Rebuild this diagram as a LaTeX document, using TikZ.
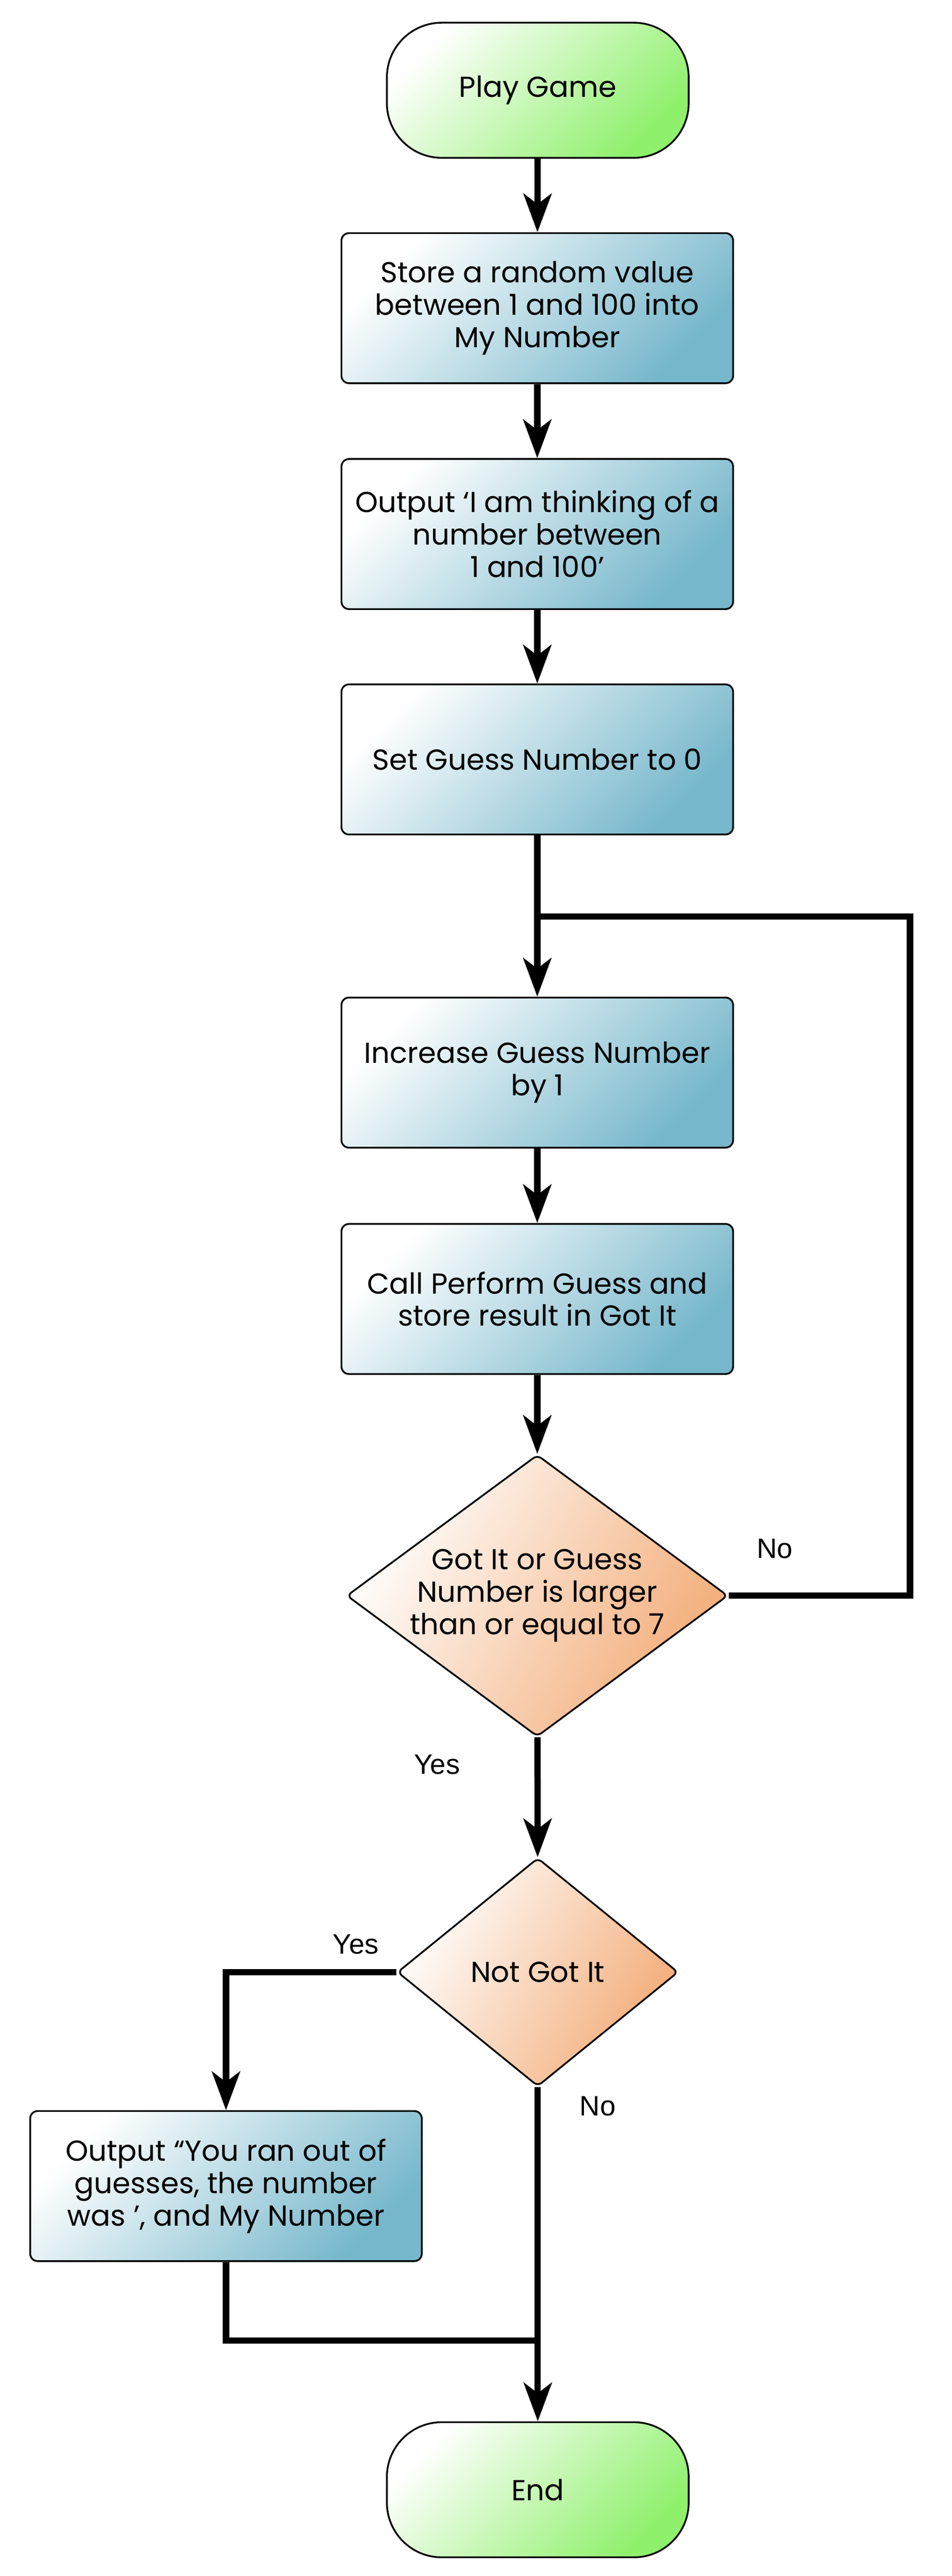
\documentclass[tikz,border=0pt]{standalone}
\usepackage{fontspec}
\setmainfont{Poppins}
\newfontfamily\yesnofont{Liberation Sans}
\usepackage{tikz}
\usetikzlibrary{shapes.geometric,arrows.meta,calc}

\definecolor{termgreen}{RGB}{143,240,108}
\definecolor{procblue}{RGB}{118,183,203}
\definecolor{decorange}{RGB}{243,172,120}

\begin{document}
\begin{tikzpicture}[
        font=\fontsize{16.5}{18.5}\selectfont,
        terminal/.style={draw=black, line width=1pt, rounded corners=1.1cm, minimum width=6.05cm, minimum height=2.71cm, top color=white, bottom color=termgreen, shading angle=45, align=center},
        process/.style={draw=black, line width=1pt, rounded corners=0.15cm, minimum width=7.85cm, minimum height=3.01cm, top color=white, bottom color=procblue, shading angle=45, align=center},
        decision/.style={diamond, draw=black, line width=1pt, rounded corners=0.1cm, aspect=1.35, inner sep=-3pt, top color=white, bottom color=decorange, shading angle=60, align=center},
        flow/.style={line width=3.6pt, -{Stealth[length=22pt,width=16pt,inset=6pt]}},
        wire/.style={line width=3.6pt},
        branch/.style={font=\yesnofont\fontsize{16}{19}\selectfont}
    ]
        \useasboundingbox (0,0) rectangle (19.08,-51.66);
        % Main column
        \node[terminal] (start) at (10.78,-1.81) {Play Game};
        \node[process] (store) at (10.77,-6.18) {Store a random value\\between 1 and 100 into\\My Number};
        \node[process] (think) at (10.77,-10.71) {Output ‘I am thinking of a\\number between\\1 and 100’};
        \node[process] (reset) at (10.77,-15.23) {Set Guess Number to 0};
        \node[process] (increase) at (10.77,-21.51) {Increase Guess Number\\by 1};
        \node[process] (perform) at (10.77,-26.05) {Call Perform Guess and\\store result in Got It};
        \node[decision, minimum width=7.64cm, minimum height=5.65cm] (check) at (10.77,-32.00) {Got It or Guess\\Number is larger\\than or equal to 7};
        \node[decision, minimum width=5.63cm, minimum height=4.58cm] (notgot) at (10.78,-39.55) {Not Got It};
        \node[process] (outofguesses) at (4.53,-43.84) {Output “You ran out of\\guesses, the number\\was ’, and My Number};
        \node[terminal] (finish) at (10.78,-49.93) {End};
        % Junction points
        \coordinate (loop) at (10.77,-18.38);
        \coordinate (back) at (18.24,-18.38);
        \coordinate (join) at (10.78,-46.94);
        % Connectors
        \draw[flow] (start) -- (store);
        \draw[flow] (store) -- (think);
        \draw[flow] (think) -- (reset);
        \draw[flow] (reset) -- (increase);
        \draw[flow] (increase) -- (perform);
        \draw[flow] (perform) -- (check);
        \draw[wire] (check.east) -| (back) -- (loop);
        \draw[flow] (check) -- (notgot);
        \draw[flow] (notgot.west) -| (outofguesses.north);
        \draw[flow] (notgot) -- (finish);
        \draw[wire] (outofguesses.south) |- (join);
        % Branch labels
        \node[branch] (no1) at (15.53,-31.06) {No};
        \node[branch] (yes1) at (8.76,-35.39) {Yes};
        \node[branch] (yes2) at (7.13,-38.99) {Yes};
        \node[branch] (no2) at (11.98,-42.24) {No};
    \end{tikzpicture}
\end{document}
